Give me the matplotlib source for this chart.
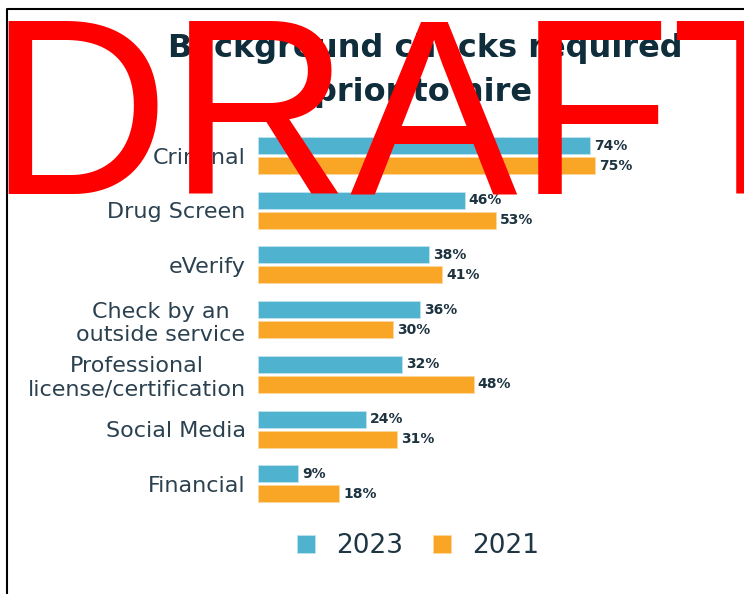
import matplotlib
matplotlib.use('Agg')
import matplotlib.pyplot as plt
from matplotlib.lines import Line2D
import numpy as np

# Survey results: share of employers running each check before hiring
categories = ['Criminal', 'Drug Screen', 'eVerify', 'Check by an\noutside service',
              'Professional\nlicense/certification', 'Social Media', 'Financial']
pct_2023 = [74, 46, 38, 36, 32, 24, 9]
pct_2021 = [75, 53, 41, 30, 48, 31, 18]
years = ['2023', '2021']

BLUE = '#4fb3cf'
ORANGE = '#f9a526'
NAVY = '#0f2d3b'
LABEL = '#2b4150'

W, H = 744, 594
fig = plt.figure(figsize=(W / 100, H / 100), dpi=100)
fig.patch.set_facecolor('white')

# plot area in pixels -> figure fractions
pitch = 54.7
top_px = 155.5 - pitch / 2
bot_px = top_px + pitch * len(categories)
ax = fig.add_axes([258 / W, 1 - bot_px / H, 449 / W, (bot_px - top_px) / H])

y = np.arange(len(categories))
bh = 17 / pitch
off = 10 / pitch
b1 = ax.barh(y - off, pct_2023, height=bh, color=BLUE, edgecolor='#bfe3ee', linewidth=0.6, label=years[0])
b2 = ax.barh(y + off, pct_2021, height=bh, color=ORANGE, edgecolor='#fcd9a0', linewidth=0.6, label=years[1])

for bars, vals in ((b1, pct_2023), (b2, pct_2021)):
    for rect, v in zip(bars, vals):
        ax.annotate(f'{v}%', xy=(v, rect.get_y() + rect.get_height() / 2),
                    xytext=(3, 0), textcoords='offset points',
                    va='center', ha='left', fontsize=10, fontweight='bold', color='#1d3340')

ax.set_xlim(0, 100)
ax.set_ylim(len(categories) - 0.5, -0.5)
ax.set_yticks(y)
ax.set_yticklabels(categories, fontsize=16, color=LABEL, multialignment='center')
ax.tick_params(axis='y', length=0, pad=9)
ax.set_xticks([])
for s in ax.spines.values():
    s.set_visible(False)

# title, two centred lines
fig.text(425 / W, 1 - 57 / H, 'Background checks required', ha='center', va='baseline',
         fontsize=23, fontweight='bold', color=NAVY)
fig.text(423 / W, 1 - 101 / H, 'prior to hire', ha='center', va='baseline',
         fontsize=23, fontweight='bold', color=NAVY)

leg = fig.legend(handles=[b1, b2], labels=years, loc='center', ncol=2,
                 bbox_to_anchor=(418 / W, 1 - 546 / H), frameon=False, fontsize=19,
                 handlelength=0.7, handleheight=0.7, handletextpad=0.8, columnspacing=1.1)
for t in leg.get_texts():
    t.set_color('#1f3644')

# frame on the top and left edges
fig.add_artist(Line2D([7 / W, 7 / W, 1], [0, 1 - 9 / H, 1 - 9 / H],
                      transform=fig.transFigure, color='black', linewidth=1.5))

# watermark
fig.text(-13 / W, 1 - 193 / H, 'DRAFT', ha='left', va='baseline', fontsize=181,
         family='Liberation Sans', color='red', zorder=10)

fig.savefig('out.png', dpi=100)
